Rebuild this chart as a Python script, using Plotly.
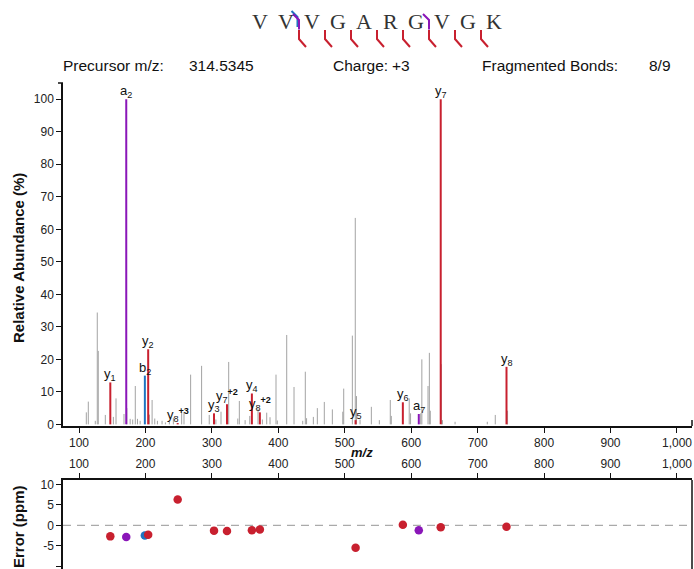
import plotly.graph_objects as go

W, H = 694, 569
ML, MR, MT, MB = 63, 2, 83, 0

# ---------------- data ----------------
sequence = list("VVVGARGVGK")
y_bonds = [2, 3, 4, 5, 6, 7, 8, 9]   # bond after residue k (1-based)
b_bonds = [2]
a_bonds = [2, 7]

precursor_mz = "314.5345"
charge = "+3"
fragmented_bonds = "8/9"

gray_mz = [111.0, 114.0, 124.5, 127.5, 129.0, 139.6, 151.7, 155.7, 167.7, 172.0,
           177.0, 180.8, 184.7, 188.0, 192.0, 206.0, 210.0, 214.0, 218.0, 225.0,
           230.0, 236.0, 242.0, 254.5, 258.0, 268.0, 284.5, 296.0, 306.0, 313.7,
           325.3, 339.0, 341.3, 350.0, 357.0, 369.4, 376.0, 382.5, 387.5, 396.5,
           398.5, 412.6, 423.6, 436.7, 440.6, 442.5, 452.7, 458.7, 469.2, 481.3,
           497.0, 498.4, 511.4, 515.8, 517.6, 523.0, 540.0, 552.0, 568.5, 570.0,
           597.0, 599.0, 614.3, 616.0, 625.3, 627.3, 628.7, 645.3, 647.0, 666.0,
           714.5, 726.5, 745.0]
gray_int = [3.7, 7.0, 1.1, 34.4, 22.6, 2.9, 2.3, 8.0, 3.2, 5.0,
            1.7, 1.5, 11.8, 1.7, 1.1, 3.0, 7.5, 1.8, 1.1, 1.1,
            0.6, 0.8, 2.0, 4.1, 3.8, 15.3, 18.0, 2.9, 1.5, 3.9,
            19.2, 1.8, 7.2, 1.3, 2.6, 4.9, 1.5, 3.6, 2.2, 15.3,
            1.2, 27.5, 11.5, 1.1, 16.2, 1.9, 2.3, 5.0, 6.9, 4.6,
            3.9, 11.0, 27.3, 63.5, 8.7, 1.5, 5.4, 1.3, 7.5, 2.6,
            8.0, 3.4, 3.4, 20.0, 11.8, 22.0, 4.2, 18.5, 1.3, 0.8,
            0.8, 2.9, 4.2]

ion_label = ["a<sub>2</sub>", "y<sub>1</sub>", "b<sub>2</sub>", "y<sub>2</sub>",
             "y<sub>8</sub><sup><b>+3</b></sup>", "y<sub>3</sub>",
             "y<sub>7</sub><sup><b>+2</b></sup>", "y<sub>4</sub>",
             "y<sub>8</sub><sup><b>+2</b></sup>", "y<sub>5</sub>", "y<sub>6</sub>",
             "a<sub>7</sub>", "y<sub>7</sub>", "y<sub>8</sub>"]
ion_kind = ["a", "y", "b", "y", "y", "y", "y", "y", "y", "y", "y", "a", "y", "y"]
ion_mz = [171.1, 147.1, 199.1, 204.1, 248.5, 303.2, 322.7, 360.2, 372.2, 516.3,
          587.4, 611.4, 644.4, 743.4]
ion_int = [100.0, 12.9, 15.0, 23.1, 0.4, 3.4, 6.2, 9.5, 3.7, 1.3,
           6.8, 3.2, 100.0, 17.7]
ion_err = [-2.85, -2.7, -2.5, -2.3, 6.3, -1.3, -1.4, -1.2, -1.0, -5.5,
           0.15, -1.2, -0.5, -0.35]

x_ticks = [100, 200, 300, 400, 500, 600, 700, 800, 900, 1000]
x_ticktext = ["100", "200", "300", "400", "500", "600", "700", "800", "900", "1,000"]
y_ticks = [0, 10, 20, 30, 40, 50, 60, 70, 80, 90, 100]
err_ticks = [-10, -5, 0, 5, 10]
err_ticktext = ["-10", "-5", "0", "5", "10"]

COL = {"y": "#c8202f", "a": "#8a16b8", "b": "#1f74c0"}
GRAY = "#a3a3a3"
FONT = "Arial, Liberation Sans, sans-serif"

# ---------------- helpers (pixel -> paper fraction) ----------------
PW = W - ML - MR
PH = H - MT - MB


def px(x):
    return (x - ML) / PW


def py(y):
    return (H - MB - y) / PH


def sticks(mz, inten):
    xs, ys = [], []
    for m, h in zip(mz, inten):
        xs += [m, m, None]
        ys += [0, h, None]
    return xs, ys


fig = go.Figure()

gx, gy = sticks(gray_mz, gray_int)
fig.add_trace(go.Scatter(x=gx, y=gy, mode="lines", line=dict(color=GRAY, width=1),
                         hoverinfo="skip", showlegend=False, xaxis="x", yaxis="y"))

for kind in ["y", "b", "a"]:
    mz = [m for m, k in zip(ion_mz, ion_kind) if k == kind]
    it = [h for h, k in zip(ion_int, ion_kind) if k == kind]
    xs, ys = sticks(mz, it)
    fig.add_trace(go.Scatter(x=xs, y=ys, mode="lines", line=dict(color=COL[kind], width=2),
                             hoverinfo="skip", showlegend=False, xaxis="x", yaxis="y"))

fig.add_trace(go.Scatter(x=ion_mz, y=ion_err, mode="markers",
                         marker=dict(size=8.5, color=[COL[k] for k in ion_kind]),
                         showlegend=False, xaxis="x2", yaxis="y2"))

annotations = []
for lab, m, h in zip(ion_label, ion_mz, ion_int):
    annotations.append(dict(x=m, y=h, xref="x", yref="y", text=lab, showarrow=False,
                            yanchor="bottom", xanchor="center", yshift=-3,
                            font=dict(family=FONT, size=13, color="#111")))

# header
for txt, x in [("Precursor m/z:", 61), (precursor_mz, 187), ("Charge:", 331), (charge, 390),
               ("Fragmented Bonds:", 480), (fragmented_bonds, 647)]:
    annotations.append(dict(x=px(x), y=py(65), xref="paper", yref="paper", text=txt,
                            showarrow=False, xanchor="left", yanchor="middle",
                            font=dict(family=FONT, size=15.5, color="#111")))

# axis titles
annotations.append(dict(x=px(362), y=py(452), xref="paper", yref="paper", text="<b><i>m/z</i></b>",
                        showarrow=False, xanchor="center", yanchor="middle",
                        font=dict(family=FONT, size=13, color="#111")))
annotations.append(dict(x=px(18), y=py(258), xref="paper", yref="paper",
                        text="<b>Relative Abundance (%)</b>", textangle=-90, showarrow=False,
                        xanchor="center", yanchor="middle", font=dict(family=FONT, size=15, color="#111")))
annotations.append(dict(x=px(18), y=py(527), xref="paper", yref="paper",
                        text="<b>Error (ppm)</b>", textangle=-90, showarrow=False,
                        xanchor="center", yanchor="middle", font=dict(family=FONT, size=15, color="#111")))

# peptide sequence
X0, DX = 260, 26
for i, aa in enumerate(sequence):
    annotations.append(dict(x=px(X0 + DX * i), y=py(22), xref="paper", yref="paper", text=aa,
                            showarrow=False, xanchor="center", yanchor="middle",
                            font=dict(family="Liberation Serif, DejaVu Serif, serif", size=22, color="#333")))

shapes = []


def path(points, color, width=2):
    d = "M " + " L ".join(f"{px(a):.5f},{py(b):.5f}" for a, b in points)
    shapes.append(dict(type="path", path=d, xref="paper", yref="paper",
                       line=dict(color=color, width=width)))


for k in y_bonds:
    bx = X0 + DX * (k - 0.5)
    path([(bx, 30), (bx, 39), (bx + 7, 47)], COL["y"])
for k in b_bonds:
    bx = X0 + DX * (k - 0.5)
    path([(bx - 1.5, 27), (bx - 1.5, 17), (bx - 7.5, 11)], COL["b"])
for k in a_bonds:
    bx = X0 + DX * (k - 0.5)
    path([(bx, 29.5), (bx, 20), (bx - 6, 14)], COL["a"])

# small end ticks of the spectrum axes
path([(692, 426), (692, 420)], "#111", 1.5)
path([(58, 83), (63, 83)], "#111", 1.5)

shapes.append(dict(type="line", xref="x2 domain", yref="y2", x0=0, x1=1, y0=0, y1=0,
                   line=dict(color="#aaaaaa", width=1.2, dash="8px,6px"), layer="below"))
shapes.append(dict(type="line", xref="paper", yref="y2 domain", x0=1, x1=1, y0=0, y1=1,
                   line=dict(color="#111", width=1.5)))

xrange = [75.9, 1022.6]
axis_font = dict(family=FONT, size=12, color="#222")
common = dict(ticks="outside", ticklen=5, tickcolor="#111", showline=True, linecolor="#111",
              linewidth=1.5, showgrid=False, zeroline=False, tickfont=axis_font, automargin=False)

fig.update_layout(
    width=W, height=H,
    margin=dict(l=ML, r=MR, t=MT, b=MB, pad=0, autoexpand=False),
    paper_bgcolor="white", plot_bgcolor="white",
    showlegend=False,
    xaxis=dict(domain=[0, 1], range=xrange, anchor="y", tickvals=x_ticks, ticktext=x_ticktext,
               **common),
    yaxis=dict(domain=[143 / PH, 1], range=[-0.5, 105], anchor="x", tickvals=y_ticks, **common),
    xaxis2=dict(domain=[0, 1], range=xrange, anchor="y2", side="top", tickvals=x_ticks,
                ticktext=x_ticktext, **common),
    yaxis2=dict(domain=[0, 89 / PH], range=[-10.66, 11.05], anchor="x2", tickvals=err_ticks,
                ticktext=err_ticktext, **common),
    annotations=annotations,
    shapes=shapes,
)

fig.write_html("out.html", config={"displayModeBar": False},
               post_script="document.body.style.margin='0';document.body.style.overflow='hidden';")
